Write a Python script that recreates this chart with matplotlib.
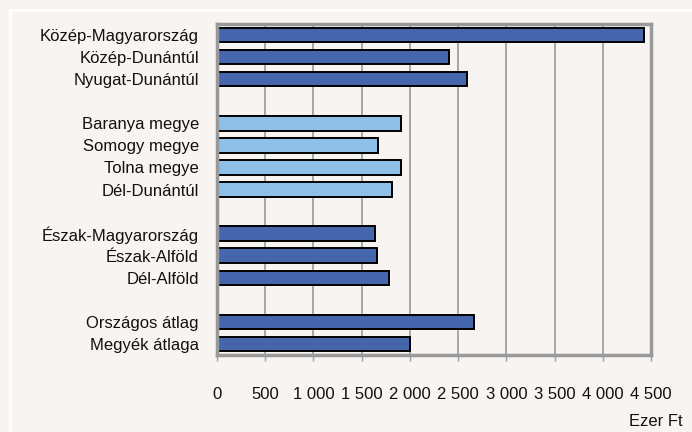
import matplotlib.pyplot as plt
import numpy as np

# Régiók / megyék, felülről lefelé; az üres nevek a csoportok közti hézagok
labels = ["Közép-Magyarország", "Közép-Dunántúl", "Nyugat-Dunántúl", "",
          "Baranya megye", "Somogy megye", "Tolna megye", "Dél-Dunántúl", "",
          "Észak-Magyarország", "Észak-Alföld", "Dél-Alföld", "",
          "Országos átlag", "Megyék átlaga"]
values = [4428, 2406, 2589, np.nan,
          1911, 1673, 1911, 1818, np.nan,
          1635, 1656, 1784, np.nan,
          2665, 2001]
groups = ["region", "region", "region", None,
          "county", "county", "county", "county", None,
          "region", "region", "region", None,
          "region", "region"]
xticks = [0, 500, 1000, 1500, 2000, 2500, 3000, 3500, 4000, 4500]

BG = "#f7f4f1"
colors = {"region": "#4565ad", "county": "#8ec0e8", None: "none"}

plt.rcParams['font.family'] = ['Liberation Sans Narrow', 'Liberation Sans', 'DejaVu Sans']

fig = plt.figure(figsize=(6.92, 4.32), dpi=100, facecolor=BG)
ax = fig.add_axes([0.3136, 0.1782, 0.6272, 0.7662])
ax.set_facecolor(BG)

# fehér keret a háttéren
fig.add_artist(plt.Line2D([9.5 / 692, 1], [1 - 9.5 / 432] * 2, color="white", lw=2, transform=fig.transFigure))
fig.add_artist(plt.Line2D([9.5 / 692] * 2, [0, 1 - 9.5 / 432], color="white", lw=2, transform=fig.transFigure))

y = np.arange(len(labels))
for yi, v, g in zip(y, values, groups):
    if g is None:
        continue
    ax.barh(yi, v, height=0.66, color=colors[g], edgecolor="black", linewidth=1.4, zorder=3)

ax.set_ylim(len(labels) - 0.5, -0.5)
ax.set_xlim(0, 4500)
ax.set_yticks(y)
ax.set_yticklabels(labels, fontsize=12, color="#111111")
ax.tick_params(axis="y", length=0, pad=13)

ax.set_xticks(xticks)
ax.set_xticklabels([f"{t:,}".replace(",", " ") for t in xticks], fontsize=12, color="#111111")
ax.tick_params(axis="x", length=4, width=1, color="#a0a0a0", pad=19)

ax.grid(axis="x", color="#a0a0a0", lw=1.3, zorder=1)
for s in ax.spines.values():
    s.set_color("#999999")
    s.set_linewidth(2.5)
    s.set_zorder(4)

fig.text(683 / 692, 1 - 422 / 432, "Ezer Ft", ha="right", va="center", fontsize=12, color="#111111")

fig.savefig("out.png", dpi=100, facecolor=BG)
